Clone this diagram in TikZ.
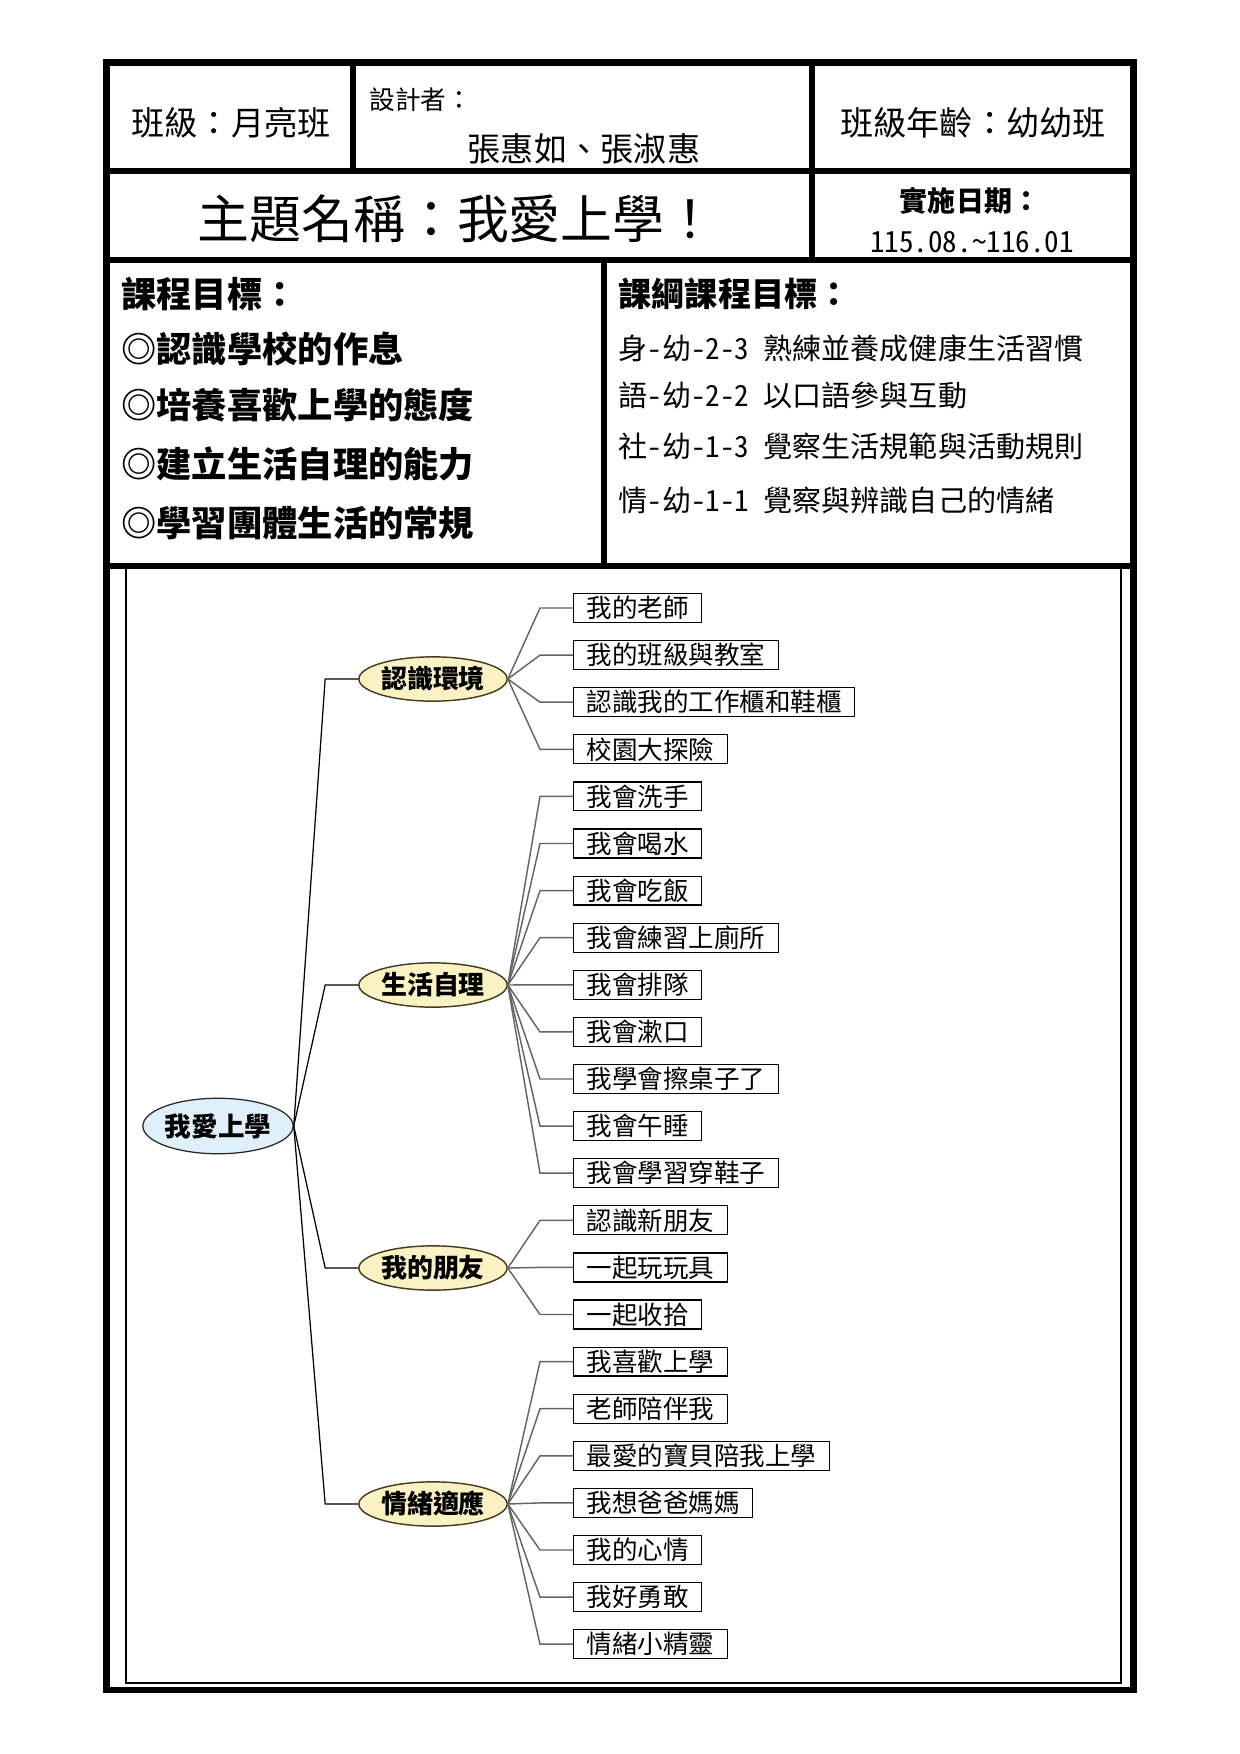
\documentclass[tikz,border=0pt]{standalone}
\usepackage{fontspec}
\setmainfont{Noto Sans CJK TC}
\usetikzlibrary{shapes.geometric}

\definecolor{rootblue}{RGB}{223,240,251}
\definecolor{topicyellow}{RGB}{251,242,196}
\definecolor{topicedge}{RGB}{70,62,30}
\definecolor{linkgray}{RGB}{100,100,100}

\tikzset{
  tableline/.style={line width=1.1mm, line cap=rect},
  headtext/.style={inner sep=0pt, font=\fontsize{16}{18}\selectfont},
  goaltext/.style={anchor=west, inner sep=0pt, font=\bfseries\fontsize{17}{19}\selectfont},
  stdtext/.style={anchor=west, inner sep=0pt, font=\fontsize{14}{16}\selectfont\addfontfeature{RawFeature=+hwid}},
  rootnode/.style={ellipse, draw=black!85, line width=0.6pt, fill=rootblue,
    minimum width=25.4mm, minimum height=9.4mm, inner sep=0pt,
    font=\bfseries\fontsize{12.8}{15}\selectfont},
  topicnode/.style={ellipse, draw=topicedge, line width=0.7pt, fill=topicyellow,
    minimum width=25.1mm, minimum height=7.5mm, inner sep=0pt,
    font=\bfseries\fontsize{12.5}{15}\selectfont},
  itembox/.style={draw, line width=0.6pt, anchor=west, minimum height=4.9mm,
    inner xsep=2.2mm, inner ysep=0pt, font=\fontsize{12.3}{14}\selectfont},
  mainlink/.style={black, line width=0.6pt},
  sublink/.style={linkgray, line width=0.7pt},
}

\begin{document}
\begin{tikzpicture}[x=0.16935mm, y=-0.16935mm]
\useasboundingbox (0,0) rectangle (1240,1754);

%% table frame
\draw[tableline] (106.5,62.5) rectangle (1133.5,1690);
\draw[tableline] (106.5,171) -- (1133.5,171);
\draw[tableline] (106.5,260) -- (1133.5,260);
\draw[tableline] (106.5,566) -- (1133.5,566);
\draw[tableline] (353,62.5) -- (353,171);
\draw[tableline] (812,62.5) -- (812,260);
\draw[tableline] (604,260) -- (604,566);
\draw[line width=0.7pt] (126,568) rectangle (1121,1683);

%% header
\node[headtext] (classname) at (231,123) {班級：月亮班};
\node[headtext, anchor=west, font=\fontsize{12.4}{14}\selectfont] (designlbl) at (369,100) {設計者：};
\node[headtext] (designers) at (584,149) {張惠如、張淑惠};
\node[headtext] (classage) at (973,123) {班級年齡：幼幼班};
\node[headtext, font=\fontsize{25}{28}\selectfont] (theme) at (457,219) {主題名稱：我愛上學！};
\node[headtext, font=\bfseries\fontsize{13.5}{15}\selectfont] (datelbl) at (970,201) {實施日期：};
\node[headtext, font=\fontsize{14}{16}\selectfont\addfontfeature{RawFeature=+hwid}] (dates) at (972,242) {115.08.\textasciitilde116.01};

%% goals
\node[goaltext] (goalhead) at (121,294) {課程目標：};
\node[goaltext] (goal1) at (121,349) {◎認識學校的作息};
\node[goaltext] (goal2) at (121,405) {◎培養喜歡上學的態度};
\node[goaltext] (goal3) at (121,464) {◎建立生活自理的能力};
\node[goaltext] (goal4) at (121,523) {◎學習團體生活的常規};

\node[goaltext, font=\bfseries\fontsize{16}{18}\selectfont] (stdhead) at (618,294) {課綱課程目標：};
\node[stdtext] (std1) at (618,348) {身-幼-2-3 熟練並養成健康生活習慣};
\node[stdtext] (std2) at (618,395) {語-幼-2-2 以口語參與互動};
\node[stdtext] (std3) at (618,446) {社-幼-1-3 覺察生活規範與活動規則};
\node[stdtext] (std4) at (618,501) {情-幼-1-1 覺察與辨識自己的情緒};

%% mind map
\node[rootnode] (root) at (218,1126) {我愛上學};
\node[topicnode] (env) at (433,679) {認識環境};
\node[topicnode] (self) at (433,985) {生活自理};
\node[topicnode] (friend) at (433,1268) {我的朋友};
\node[topicnode] (mood) at (433,1504) {情緒適應};

\foreach \lbl [count=\i from 0] in {我的老師,我的班級與教室,認識我的工作櫃和鞋櫃,校園大探險,
  我會洗手,我會喝水,我會吃飯,我會練習上廁所,我會排隊,我會漱口,我學會擦桌子了,我會午睡,我會學習穿鞋子,
  認識新朋友,一起玩玩具,一起收拾,
  我喜歡上學,老師陪伴我,最愛的寶貝陪我上學,我想爸爸媽媽,我的心情,我好勇敢,情緒小精靈}
  \node[itembox] (item\i) at (573,{608+47.1*\i}) {\lbl};

\foreach \t in {env,self,friend,mood}
  \draw[mainlink] (\t.west) -- ++(-33,0) -- (root.east);

\foreach \i in {0,...,3} \draw[sublink] (item\i.west) -- ++(-33,0) -- (env.east);
\foreach \i in {4,...,12} \draw[sublink] (item\i.west) -- ++(-33,0) -- (self.east);
\foreach \i in {13,14,15} \draw[sublink] (item\i.west) -- ++(-33,0) -- (friend.east);
\foreach \i in {16,...,22} \draw[sublink] (item\i.west) -- ++(-33,0) -- (mood.east);

\end{tikzpicture}
\end{document}
